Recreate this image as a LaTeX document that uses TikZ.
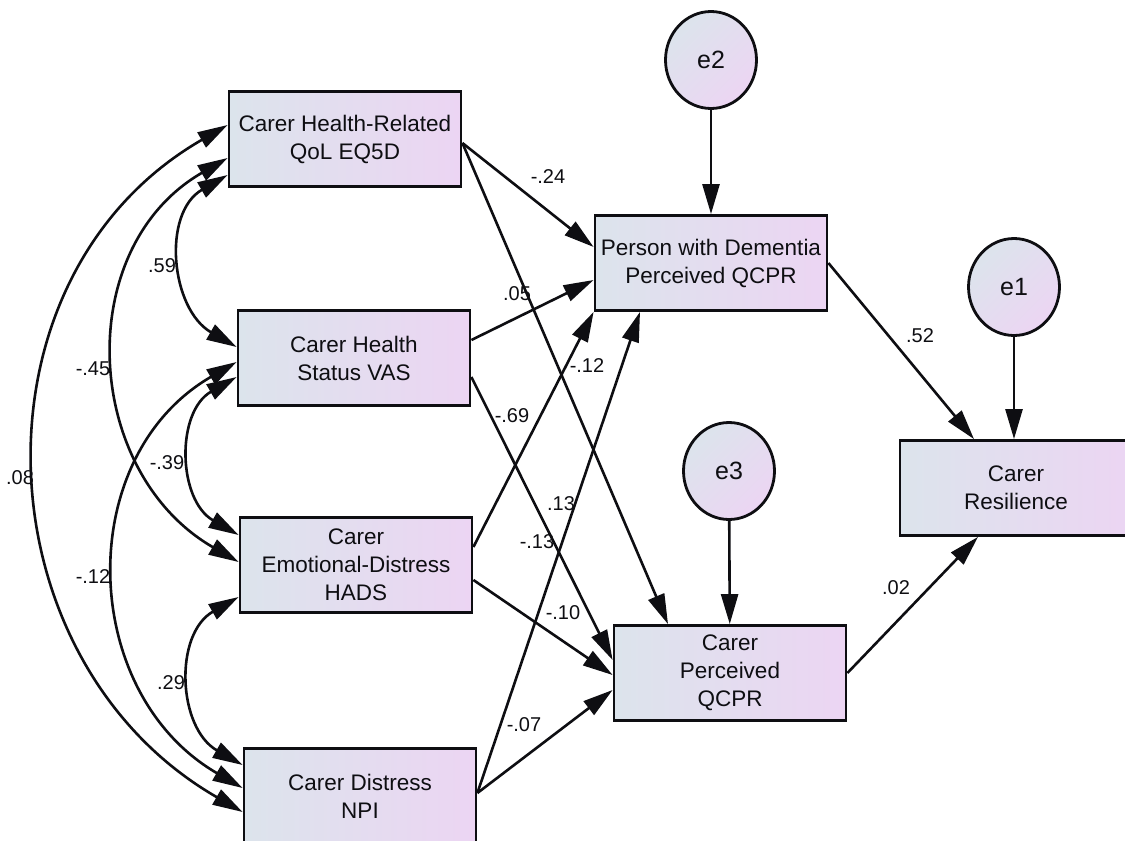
\documentclass[tikz,border=0pt]{standalone}
\usepackage{fontspec}
\setmainfont{Liberation Sans}
\usepackage{tikz}
\usetikzlibrary{arrows.meta,shapes.geometric}

\definecolor{boxleft}{RGB}{220,228,236}
\definecolor{boxright}{RGB}{236,213,243}
\definecolor{ink}{RGB}{14,14,18}

\tikzset{
  var/.style={draw=ink, line width=2.8pt, rectangle, minimum width=232pt,
    minimum height=95pt, inner sep=0pt, align=center,
    left color=boxleft, right color=boxright, text=ink,
    font=\fontsize{22.5}{28}\selectfont},
  err/.style={draw=ink, line width=2.8pt, ellipse, minimum width=91pt,
    minimum height=97pt, inner sep=0pt, left color=boxleft,
    right color=boxright, shading angle=45, text=ink,
    font=\fontsize{25}{28}\selectfont},
  coef/.style={text=ink, inner sep=1pt, font=\fontsize{20}{22}\selectfont},
  reg/.style={->, draw=ink, line width=2.6pt},
  cov/.style={<->, draw=ink, line width=2.6pt}
}

\begin{document}
\begin{tikzpicture}[x=1pt, y=-1pt, >={Triangle[length=30pt, width=17pt]}]
\useasboundingbox (0,0) rectangle (1125,841);
\clip (0,0) rectangle (1125,841);

% 観測変数
\node[var] (eqd) at (345,139) {Carer Health-Related\\QoL EQ5D};
\node[var] (vas) at (354,358) {Carer Health\\Status VAS};
\node[var] (hads) at (356,565) {Carer\\Emotional-Distress\\HADS};
\node[var] (npi) at (360,796) {Carer Distress\\NPI};
\node[var] (pwd) at (711,263) {Person with Dementia\\Perceived QCPR};
\node[var] (cqcpr) at (730,673) {Carer\\Perceived\\QCPR};
\node[var] (resil) at (1016,488) {Carer\\Resilience};

% 誤差変数
\node[err] (e2) at (711,60) {e2};
\node[err] (e1) at (1014,287) {e1};
\node[err] (e3) at (729,471) {e3};

% パス
\draw[reg] ([yshift=-4pt]eqd.east) -- ([yshift=16pt]pwd.west);
\draw[reg] ([yshift=-4pt]eqd.east) -- ([xshift=-62pt]cqcpr.north);
\draw[reg] ([yshift=18pt]vas.east) -- ([yshift=-17pt]pwd.west);
\draw[reg] ([yshift=-19pt]vas.east) -- ([yshift=13pt]cqcpr.west);
\draw[reg] ([yshift=18pt]hads.east) -- (pwd.south west);
\draw[reg] ([yshift=-15pt]hads.east) -- ([yshift=-2pt]cqcpr.west);
\draw[reg] ([yshift=3pt]npi.east) -- ([xshift=-71pt]pwd.south);
\draw[reg] ([yshift=3pt]npi.east) -- ([yshift=-17pt]cqcpr.west);
\draw[reg] (pwd.east) -- ([xshift=-42pt]resil.north);
\draw[reg] (cqcpr.east) -- ([xshift=-38pt]resil.south);
\draw[reg] (e2.south) -- (pwd.north);
\draw[reg] (e1.south) -- (e1.south |- resil.north);
\draw[reg] (e3) -- (cqcpr);

% 共分散
\draw[cov] ([yshift=-36pt]eqd.west) .. controls +(-66,38) and +(-66,-38) .. ([yshift=11pt]vas.west);
\draw[cov] ([yshift=-19pt]eqd.west) .. controls +(-156,90) and +(-156,-90) .. ([yshift=3pt]hads.west);
\draw[cov] ([yshift=14pt]eqd.west) .. controls +(-264,152) and +(-264,-152) .. ([yshift=-16pt]npi.west);
\draw[cov] ([yshift=-19pt]vas.west) .. controls +(-61,35) and +(-61,-35) .. ([yshift=30pt]hads.west);
\draw[cov] ([yshift=-4pt]vas.west) .. controls +(-164,95) and +(-164,-95) .. ([yshift=8pt]npi.west);
\draw[cov] ([yshift=-32pt]hads.west) .. controls +(-65,37) and +(-65,-37) .. ([yshift=31pt]npi.west);

% 係数
\foreach \x/\y/\t [count=\i] in {548/177/-.24, 517/294/.05, 587/366/-.12,
    512/416/-.69, 561/504/.13, 537/542/-.13, 563/613/-.10, 524/725/-.07,
    920/336/.52, 896/588/.02, 162/266/.59, 93/369/-.45, 20/478/.08,
    167/463/-.39, 93/577/-.12, 171/683/.29}
  \node[coef] (k\i) at (\x,\y) {\t};
\end{tikzpicture}
\end{document}
